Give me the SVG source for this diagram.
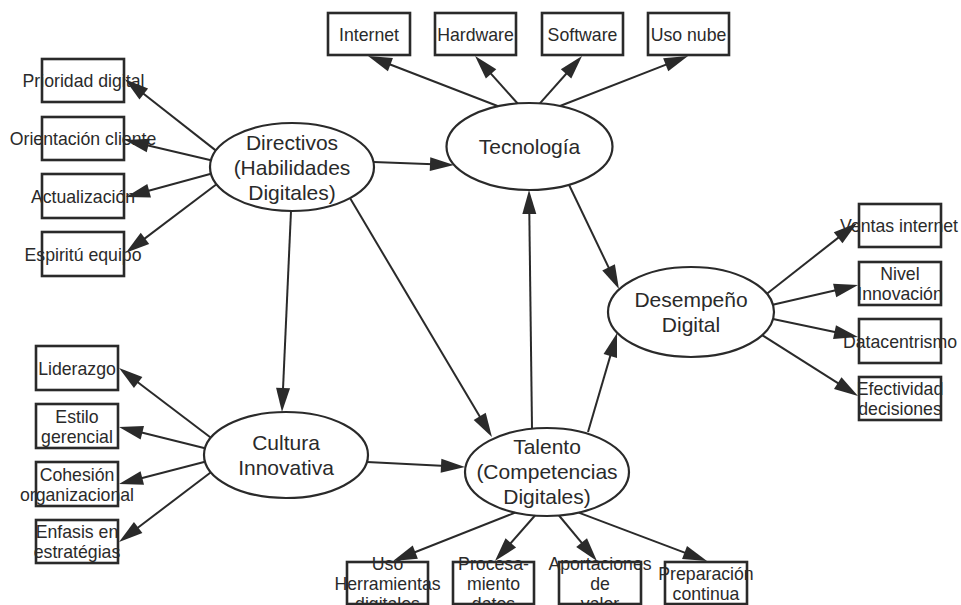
<svg xmlns="http://www.w3.org/2000/svg" width="961" height="605" viewBox="0 0 961 605">
<style>
.bx{fill:#fff;stroke:#2a2a2a;stroke-width:2.6}
.el{fill:#fff;stroke:#2a2a2a;stroke-width:2.2}
.t{font-family:"Liberation Sans",Arial,sans-serif;font-size:17.7px;fill:#2a2a2a;text-anchor:middle}
.te{font-family:"Liberation Sans",Arial,sans-serif;font-size:21px;fill:#2a2a2a;text-anchor:middle}
.c line{stroke:#2a2a2a;stroke-width:2;marker-end:url(#ah)}
</style>
<defs>
<marker id="ah" markerUnits="userSpaceOnUse" markerWidth="24" markerHeight="14" refX="10" refY="7" orient="auto" overflow="visible">
<path d="M0,0 L24,7 L0,14 z" fill="#2a2a2a"/>
</marker>
</defs>
<rect width="961" height="605" fill="#fff"/>

<g id="directivos"><ellipse class="el" cx="292" cy="167" rx="82" ry="44"/><text class="te" x="292" y="149.5">Directivos</text><text class="te" x="292" y="174.5">(Habilidades</text><text class="te" x="292" y="199.5">Digitales)</text></g>
<g id="tecnologia"><ellipse class="el" cx="529.5" cy="146.5" rx="83" ry="43.5"/><text class="te" x="529.5" y="154">Tecnología</text></g>
<g id="desempeno"><ellipse class="el" cx="691" cy="312" rx="83" ry="45"/><text class="te" x="691" y="307">Desempeño</text><text class="te" x="691" y="332">Digital</text></g>
<g id="cultura"><ellipse class="el" cx="286" cy="455" rx="82" ry="43"/><text class="te" x="286" y="450">Cultura</text><text class="te" x="286" y="475">Innovativa</text></g>
<g id="talento"><ellipse class="el" cx="547" cy="472" rx="82" ry="44"/><text class="te" x="547" y="454">Talento</text><text class="te" x="547" y="479">(Competencias</text><text class="te" x="547" y="504">Digitales)</text></g>

<g id="prioridad"><rect class="bx" x="42" y="59" width="82" height="43"/><text class="t" x="83.5" y="87">Prioridad digital</text></g>
<g id="orientacion"><rect class="bx" x="42" y="117" width="82" height="43"/><text class="t" x="83" y="145">Orientación cliente</text></g>
<g id="actualizacion"><rect class="bx" x="42" y="174" width="82" height="44"/><text class="t" x="83" y="202.5">Actualización</text></g>
<g id="espiritu"><rect class="bx" x="42" y="232" width="82" height="44"/><text class="t" x="83" y="260.5">Espiritú equipo</text></g>

<g id="internet"><rect class="bx" x="328" y="13" width="82" height="42"/><text class="t" x="369" y="40.5">Internet</text></g>
<g id="hardware"><rect class="bx" x="435" y="13" width="81" height="42"/><text class="t" x="475.5" y="40.5">Hardware</text></g>
<g id="software"><rect class="bx" x="542" y="13" width="81" height="42"/><text class="t" x="582.5" y="40.5">Software</text></g>
<g id="usonube"><rect class="bx" x="648" y="13" width="81" height="42"/><text class="t" x="688.5" y="40.5">Uso nube</text></g>

<g id="ventas"><rect class="bx" x="859" y="204" width="82" height="43"/><text class="t" x="899" y="232">Ventas internet</text></g>
<g id="nivel"><rect class="bx" x="859" y="262" width="82" height="43"/><text class="t" x="900" y="280">Nivel</text><text class="t" x="900" y="300">Innovación</text></g>
<g id="datacentrismo"><rect class="bx" x="859" y="319" width="82" height="44"/><text class="t" x="900" y="347.5">Datacentrismo</text></g>
<g id="efectividad"><rect class="bx" x="859" y="377" width="82" height="43"/><text class="t" x="900" y="395">Efectividad</text><text class="t" x="900" y="415">decisiones</text></g>

<g id="liderazgo"><rect class="bx" x="36" y="346" width="82" height="44"/><text class="t" x="77" y="374.5">Liderazgo</text></g>
<g id="estilo"><rect class="bx" x="36" y="404" width="82" height="44"/><text class="t" x="77" y="422.5">Estilo</text><text class="t" x="77" y="442.5">gerencial</text></g>
<g id="cohesion"><rect class="bx" x="36" y="462" width="82" height="44"/><text class="t" x="77" y="480.5">Cohesión</text><text class="t" x="77" y="500.5">organizacional</text></g>
<g id="enfasis"><rect class="bx" x="36" y="520" width="82" height="43"/><text class="t" x="77" y="538">Enfasis en</text><text class="t" x="77" y="558">estratégias</text></g>

<g id="herramientas"><rect class="bx" x="347" y="562" width="81" height="42"/><text class="t" x="387.5" y="569.5">Uso</text><text class="t" x="387.5" y="589.5">Herramientas</text><text class="t" x="387.5" y="609.5">digitales</text></g>
<g id="procesamiento"><rect class="bx" x="453" y="562" width="81" height="42"/><text class="t" x="493.5" y="569.5">Procesa-</text><text class="t" x="493.5" y="589.5">miento</text><text class="t" x="493.5" y="609.5">datos</text></g>
<g id="aportaciones"><rect class="bx" x="559" y="562" width="82" height="42"/><text class="t" x="600" y="569.5">Aportaciones</text><text class="t" x="600" y="589.5">de</text><text class="t" x="600" y="609.5">valor</text></g>
<g id="preparacion"><rect class="bx" x="665" y="562" width="82" height="42"/><text class="t" x="706" y="579.5">Preparación</text><text class="t" x="706" y="599.5">continua</text></g>

<g id="connectors" class="c">
<line x1="216" y1="150.6" x2="135.9" y2="87.8"/>
<line x1="211" y1="160.2" x2="138.6" y2="143.2"/>
<line x1="211" y1="173.8" x2="139.5" y2="193.3"/>
<line x1="216.5" y1="184.2" x2="137" y2="244.4"/>
<line x1="498.2" y1="106.2" x2="381.1" y2="61"/>
<line x1="517.6" y1="103.5" x2="484.4" y2="66.4"/>
<line x1="539.9" y1="103.3" x2="572.7" y2="66.5"/>
<line x1="560" y1="106" x2="675" y2="61.1"/>
<line x1="766.9" y1="293.7" x2="846" y2="231.6"/>
<line x1="772.7" y1="304.8" x2="844.4" y2="288.2"/>
<line x1="773" y1="319" x2="844.3" y2="334.1"/>
<line x1="762.2" y1="335.1" x2="846.2" y2="388.4"/>
<line x1="210.9" y1="437.7" x2="130.2" y2="376.5"/>
<line x1="205" y1="448.2" x2="132.6" y2="430.3"/>
<line x1="205" y1="461.8" x2="132.6" y2="480.5"/>
<line x1="210.9" y1="472.3" x2="130.2" y2="533.5"/>
<line x1="515.3" y1="512.6" x2="406" y2="555.8"/>
<line x1="535" y1="515.5" x2="504.2" y2="550.5"/>
<line x1="559" y1="515.5" x2="588" y2="550.3"/>
<line x1="578.7" y1="512.6" x2="693.9" y2="556.1"/>
<line x1="373.5" y1="162" x2="440" y2="164.5"/>
<line x1="291" y1="211" x2="282.6" y2="398"/>
<line x1="350" y1="198.1" x2="484.8" y2="425"/>
<line x1="367" y1="462" x2="451" y2="466.3"/>
<line x1="532" y1="428.7" x2="529.2" y2="204"/>
<line x1="588" y1="432" x2="613.1" y2="346.4"/>
<line x1="569" y1="184.8" x2="612.9" y2="276.4"/>
</g>
</svg>
